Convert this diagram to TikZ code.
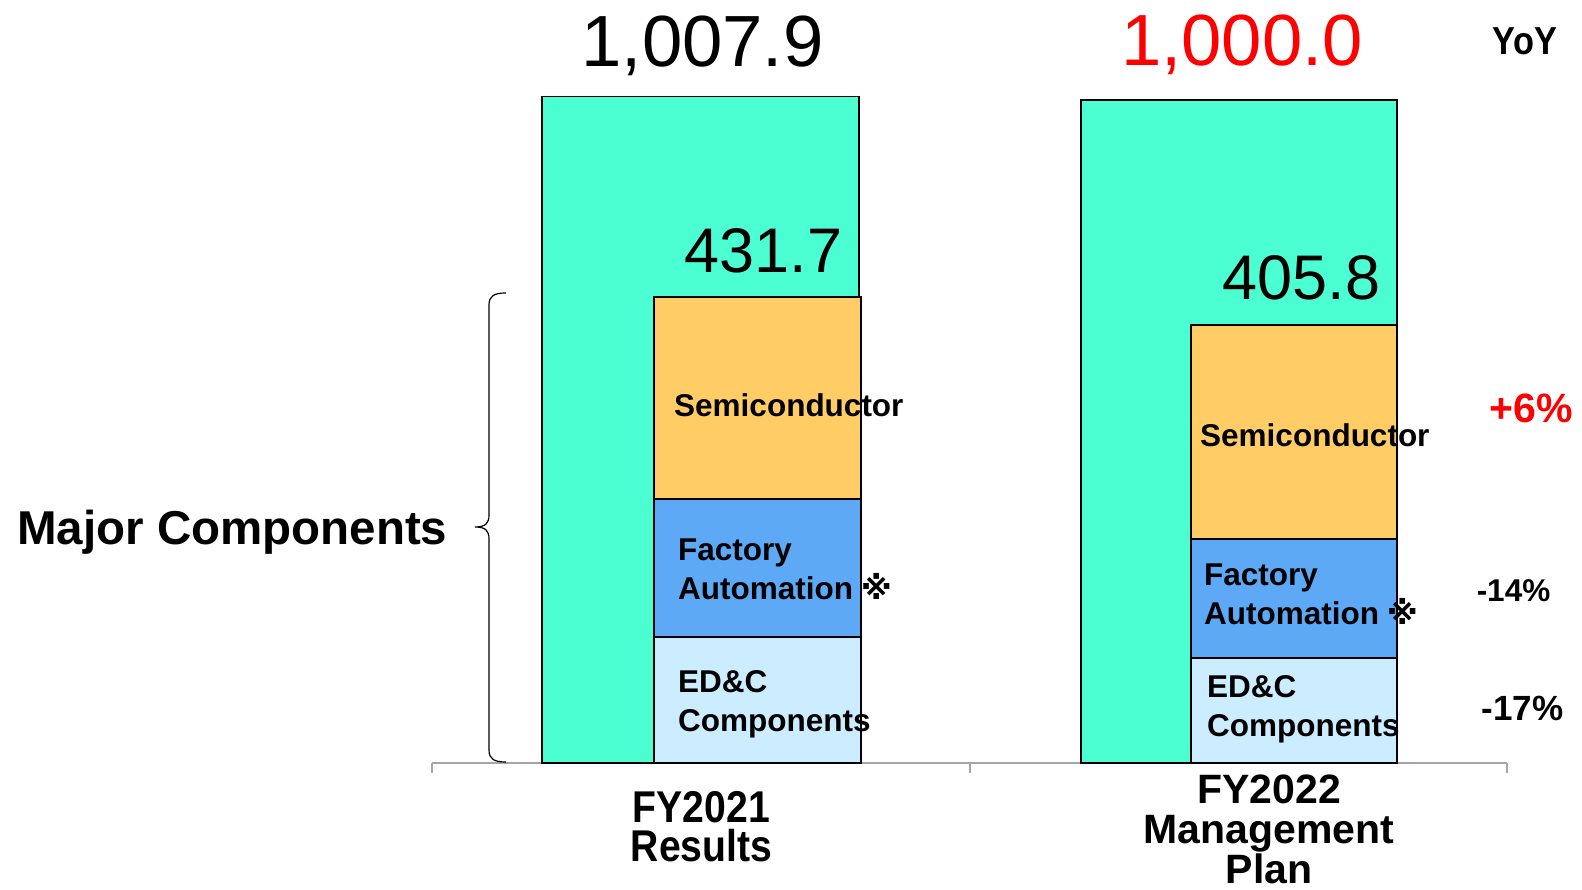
\documentclass[tikz,border=0pt]{standalone}
\usepackage{fontspec}
\setmainfont{Liberation Sans}
\newfontfamily\condfont[FakeStretch=0.88]{Liberation Sans}
\newfontfamily\markfont{DejaVu Sans}

\definecolor{totalgreen}{RGB}{75,255,210}
\definecolor{semiorange}{RGB}{255,204,102}
\definecolor{fablue}{RGB}{93,169,246}
\definecolor{edclight}{RGB}{204,236,255}
\definecolor{axisgray}{RGB}{166,166,166}

\tikzset{
	bar/.style={draw=black, line width=1.5pt},
	axisline/.style={draw=axisgray, line width=1.8pt},
	total/.style={anchor=base, inner sep=0pt, font=\fontsize{72.5}{72.5}\selectfont},
	subtotal/.style={anchor=base, inner sep=0pt, font=\fontsize{63}{63}\selectfont},
	segment/.style={anchor=base west, inner sep=0pt, align=left, font=\fontsize{31.5}{39}\selectfont\bfseries},
	yoy/.style={anchor=base, inner sep=0pt, font=\bfseries},
	category/.style={anchor=base, inner sep=0pt, align=center},
}

\begin{document}
\begin{tikzpicture}[x=1pt, y=1pt]
		\useasboundingbox (0,0) rectangle (1582,890);

		% Axis
		\draw[axisline] (432,127) -- (1507,127);
		\foreach \x in {432,970,1507}
			\draw[axisline] (\x,127) -- (\x,117);

		% FY2021 bars
		\filldraw[bar, fill=totalgreen] (542,127) rectangle (859,793.5); % total
		\filldraw[bar, fill=edclight] (654,127) rectangle (861,253);
		\filldraw[bar, fill=fablue] (654,253) rectangle (861,391);
		\filldraw[bar, fill=semiorange] (654,391) rectangle (861,593);

		% FY2022 bars
		\filldraw[bar, fill=totalgreen] (1081,127) rectangle (1397,790); % total
		\filldraw[bar, fill=edclight] (1191,127) rectangle (1397,232);
		\filldraw[bar, fill=fablue] (1191,232) rectangle (1397,351);
		\filldraw[bar, fill=semiorange] (1191,351) rectangle (1397,565);

		% Totals
		\node[total] (tot21) at (702.5,823) {1,007.9};
		\node[total, text=red] (tot22) at (1242,824) {1,000.0};
		\node[subtotal] (sub21) at (763.5,617) {431.7};
		\node[subtotal] (sub22) at (1301.5,590) {405.8};

		% Segment names (base = last line)
		\node[segment] (semi21) at (674,473) {Semiconductor};
		\node[segment] (fa21) at (678,290) {Factory\\Automation {\markfont ※}};
		\node[segment] (edc21) at (678,158) {ED\&C\\Components};
		\node[segment] (semi22) at (1200,443) {Semiconductor};
		\node[segment] (fa22) at (1204,265) {Factory\\Automation {\markfont ※}};
		\node[segment] (edc22) at (1207,153) {ED\&C\\Components};

		% Year on year
		\node[yoy, font=\fontsize{39}{39}\condfont\bfseries] (yoy) at (1525,835) {YoY};
		\node[yoy, font=\fontsize{41}{41}\selectfont\bfseries, text=red] (yoysemi) at (1531.5,467) {+6\%};
		\node[yoy, font=\fontsize{31.5}{31.5}\selectfont\bfseries] (yoyfa) at (1513.5,288) {-14\%};
		\node[yoy, font=\fontsize{35}{35}\selectfont\bfseries] (yoyedc) at (1522.5,169) {-17\%};

		% Brace
		\draw[line width=1.2pt] (506,597) .. controls (494,597) and (489,594) .. (489,585)
			-- (489,375) .. controls (489,367) and (486,363) .. (475,363)
			.. controls (486,363) and (489,359) .. (489,351)
			-- (489,140) .. controls (489,131) and (494,128) .. (506,128);
		\node[anchor=base west, inner sep=0pt, font=\fontsize{47.5}{47.5}\selectfont\bfseries] (major) at (17,345) {Major Components};

		% Categories
		\node[category, font=\fontsize{44.5}{39}\condfont\bfseries] (cat21) at (701.5,28) {FY2021\\Results};
		\node[category, font=\fontsize{41}{40}\selectfont\bfseries] (cat22) at (1269,6) {FY2022\\Management\\Plan};
	\end{tikzpicture}
\end{document}
